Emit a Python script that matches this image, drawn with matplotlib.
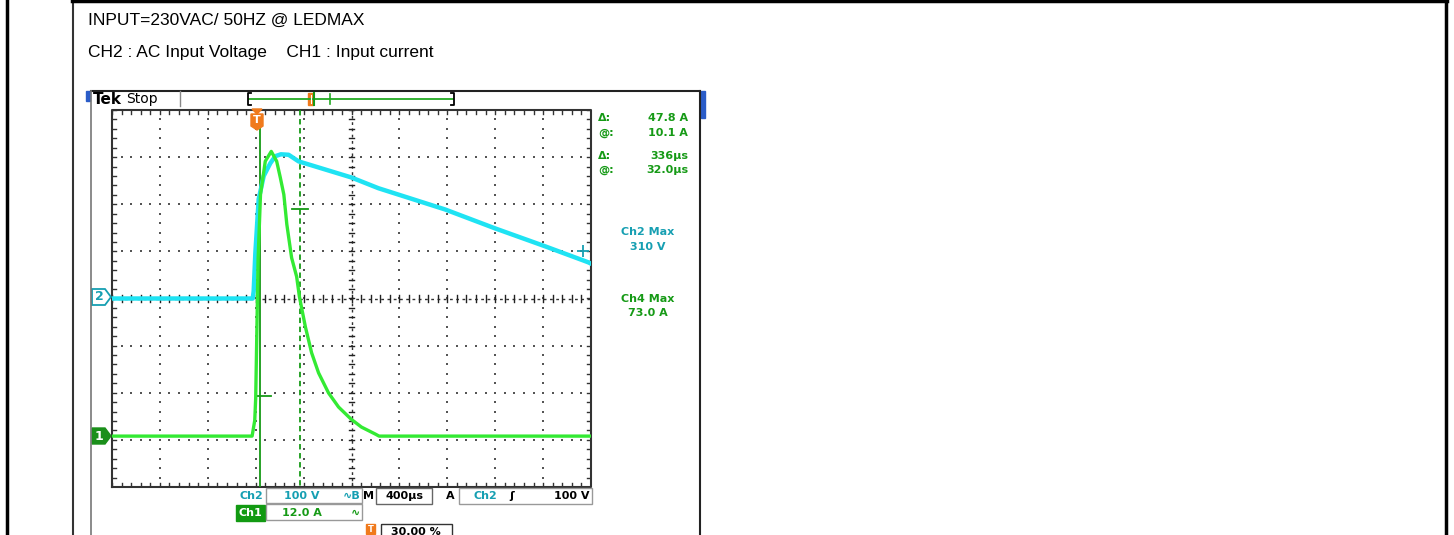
import numpy as np
import matplotlib.pyplot as plt
from matplotlib.patches import Rectangle, Polygon

W, H = 1454, 535

t_ch2 = [-1200, -25, -17, -3, 25, 67, 122, 164, 210, 275, 358, 797, 1025, 1581, 1997, 2414, 2775, 2800]
volt_ch2 = [0, 0, 15, 96, 211, 260, 287, 302, 306, 305, 291, 257, 234, 189, 149, 111, 77, 74]

t_ch1 = [-1200, -30, -8, 0, 20, 40, 80, 130, 175, 205, 235, 260, 300, 342, 365, 415,
         467, 525, 608, 692, 797, 883, 1000, 1030, 2800]
amp_ch1 = [0, 0, 4, 9.7, 45, 61.5, 70, 72.5, 70, 65.9, 61.5, 53.9, 45.4, 40.6, 35.5, 27.8,
           21.2, 16.1, 11, 7.4, 4.3, 2.3, 0.5, 0, 0]

volts_div = 100.0
amps_div = 12.0
ch1_offset = -2.92  # divisiones
cursor_t = [32.0, 368.0]
cursor_i = [10.1, 57.9]

CYAN = '#1fe3f3'
GREEN = '#33ea33'
DKGREEN = '#169a16'
TEAL = '#169fb2'
ORANGE = '#f07a1c'

fig = plt.figure(figsize=(W / 100, H / 100), dpi=100)
fig.patch.set_facecolor('white')

# Reticula del osciloscopio
ax = fig.add_axes([112 / W, 1 - 487 / H, 479 / W, 377 / H])
ax.set_xlim(-1200, 2800)
ax.set_ylim(-4, 4)
ax.axis('off')

minor_x = np.arange(-1200, 2801, 80)
minor_y = np.arange(-4, 4.001, 0.2)
for gx in range(-800, 2800, 400):
    if gx != 800:
        ax.scatter(np.full(len(minor_y), gx), minor_y, s=2, marker='s', color='#555', lw=0)
for gy in range(-3, 4):
    if gy != 0:
        ax.scatter(minor_x, np.full(len(minor_x), gy), s=2, marker='s', color='#555', lw=0)

# ejes centrales con marcas
ax.plot([800, 800], [-4, 4], color='#333', lw=1, ls=(0, (2, 2.5)))
ax.plot([-1200, 2800], [0, 0], color='#333', lw=1, ls=(0, (2, 2.5)))
for yy in minor_y:
    ax.plot([775, 825], [yy, yy], color='#222', lw=1)
for xx in minor_x:
    ax.plot([xx, xx], [-0.065, 0.065], color='#222', lw=1)

# borde con marcas hacia dentro
ax.plot([-1200, 2800, 2800, -1200, -1200], [-4, -4, 4, 4, -4], color='#333', lw=1.5, clip_on=False)
for yy in minor_y:
    ax.plot([-1200, -1167], [yy, yy], color='#333', lw=1)
    ax.plot([2800, 2767], [yy, yy], color='#333', lw=1)
for xx in minor_x:
    ax.plot([xx, xx], [-4, -3.915], color='#333', lw=1)
    ax.plot([xx, xx], [4, 3.915], color='#333', lw=1)

# cursores
ax.plot([cursor_t[0]] * 2, [3.68, -4], color=DKGREEN, lw=1.3, zorder=4)
ax.plot([cursor_t[1]] * 2, [4, -4], color=DKGREEN, lw=1.3, ls=(0, (3, 2)), zorder=4)

# trazas
ax.plot(t_ch2, np.array(volt_ch2) / volts_div, color=CYAN, lw=3.2, zorder=5)
ax.plot(t_ch1, np.array(amp_ch1) / amps_div + ch1_offset, color=GREEN, lw=2.4, zorder=6)

ax.plot([cursor_t[0] - 15, cursor_t[0] + 95], [cursor_i[0] / amps_div + ch1_offset] * 2,
        color=DKGREEN, lw=1.3, zorder=7)
ax.plot([cursor_t[1] - 65, cursor_t[1] + 65], [cursor_i[1] / amps_div + ch1_offset] * 2,
        color=DKGREEN, lw=1.3, zorder=7)
ax.plot(2735, 1.0, marker='+', color=TEAL, ms=8, mew=1.3, zorder=7)

# Capa superpuesta en pixeles
ov = fig.add_axes([0, 0, 1, 1])
ov.set_xlim(0, W)
ov.set_ylim(H, 0)
ov.axis('off')
ov.patch.set_visible(False)

# marco exterior
ov.plot([7, 7], [0, H], color='black', lw=2.5)
ov.plot([73, 73], [0, H], color='#333', lw=1.5)
ov.plot([72, 1447], [1, 1], color='black', lw=2.5)
ov.plot([1446, 1446], [0, H], color='black', lw=2.5)

txt_font = ['Liberation Sans', 'DejaVu Sans']
ov.text(88, 20, 'INPUT=230VAC/ 50HZ @ LEDMAX', fontsize=12.5, family=txt_font, va='center')
ov.text(88, 53, 'CH2 : AC Input Voltage    CH1 : Input current', fontsize=12.5, family=txt_font, va='center')

# marco de la captura
ov.plot([91, 700], [91, 91], color='#222', lw=1.5)
ov.plot([91, 91], [91, H], color='#777', lw=1.2)
ov.plot([700, 700], [91, H], color='#222', lw=1.5)
ov.add_patch(Rectangle((86, 91), 4, 10, color='#2a5cc8'))
ov.add_patch(Rectangle((701, 91), 4, 27, color='#2a5cc8'))

# barra superior
ov.text(93, 99, 'Tek', fontsize=11, fontweight='bold', va='center')
ov.text(126, 99, 'Stop', fontsize=10, va='center')
ov.plot([180, 180], [91, 106], color='#888', lw=1)
ov.plot([249, 453], [99, 99], color='#22aa22', lw=1.3)
ov.plot([251, 248, 248, 251], [93, 93, 105, 105], color='black', lw=1.3)
ov.plot([451, 454, 454, 451], [93, 93, 105, 105], color='black', lw=1.3)
ov.add_patch(Rectangle((308, 93), 5, 12, color=ORANGE))
ov.plot([310.5, 310.5], [95, 103], color='white', lw=0.8)
ov.plot([314, 314], [93, 105], color=DKGREEN, lw=1.5)
ov.plot([330, 330], [94, 104], color='#22aa22', lw=1.2)

# marcador de disparo
ov.add_patch(Polygon([(252, 109), (262, 109), (257, 114)], closed=True, color=ORANGE))
ov.add_patch(Polygon([(251, 114), (263, 114), (263, 126), (257, 130), (251, 126)], closed=True, color=ORANGE))
ov.text(257, 120, 'T', color='white', fontsize=8, fontweight='bold', ha='center', va='center')

# marcadores de canal
ov.add_patch(Polygon([(92, 289), (105, 289), (111, 297), (105, 305), (92, 305)], closed=True,
                     fc='white', ec=TEAL, lw=1.3))
ov.text(99, 297, '2', color=TEAL, fontsize=9, fontweight='bold', ha='center', va='center')
ov.add_patch(Polygon([(92, 428), (105, 428), (111, 436), (105, 444), (92, 444)], closed=True,
                     color='#1a8f1a'))
ov.text(99, 436, '1', color='white', fontsize=9, fontweight='bold', ha='center', va='center')

# lecturas a la derecha
rd = dict(fontsize=8, fontweight='bold', va='center', family='DejaVu Sans')
ov.text(598, 118, 'Δ:', color=DKGREEN, **rd)
ov.text(688, 118, '47.8 A', color=DKGREEN, ha='right', **rd)
ov.text(598, 133, '@:', color=DKGREEN, **rd)
ov.text(688, 133, '10.1 A', color=DKGREEN, ha='right', **rd)
ov.text(598, 156, 'Δ:', color=DKGREEN, **rd)
ov.text(688, 156, '336µs', color=DKGREEN, ha='right', **rd)
ov.text(598, 170, '@:', color=DKGREEN, **rd)
ov.text(688, 170, '32.0µs', color=DKGREEN, ha='right', **rd)
ov.text(648, 232, 'Ch2 Max', color=TEAL, ha='center', **rd)
ov.text(648, 247, '310 V', color=TEAL, ha='center', **rd)
ov.text(648, 299, 'Ch4 Max', color=DKGREEN, ha='center', **rd)
ov.text(648, 313, '73.0 A', color=DKGREEN, ha='center', **rd)

# fila inferior
ov.text(251, 496, 'Ch2', color=TEAL, ha='center', **rd)
ov.add_patch(Rectangle((266, 488), 96, 15, fc='none', ec='#999', lw=1))
ov.text(302, 496, '100 V', color=TEAL, ha='center', **rd)
ov.text(352, 496, '∿B', color=TEAL, ha='center', **rd)
ov.text(368, 496, 'M', color='black', ha='center', **rd)
ov.add_patch(Rectangle((376, 488), 56, 16, fc='none', ec='#666', lw=1))
ov.text(404, 496, '400µs', color='black', ha='center', **rd)
ov.text(450, 496, 'A', color='black', ha='center', **rd)
ov.add_patch(Rectangle((459, 488), 133, 16, fc='none', ec='#999', lw=1))
ov.text(485, 496, 'Ch2', color=TEAL, ha='center', **rd)
ov.text(512, 496, 'ʃ', color='black', ha='center', **rd)
ov.text(590, 496, '100 V', color='black', ha='right', **rd)

ov.add_patch(Rectangle((236, 505), 29, 16, color='#129a12'))
ov.text(250, 513, 'Ch1', color='white', ha='center', **rd)
ov.add_patch(Rectangle((266, 504), 96, 16, fc='none', ec='#999', lw=1))
ov.text(302, 513, '12.0 A', color=DKGREEN, ha='center', **rd)
ov.text(355, 513, '∿', color=DKGREEN, ha='center', **rd)

ov.add_patch(Rectangle((366, 524), 9, 10, color=ORANGE))
ov.text(370.5, 529, 'T', color='white', fontsize=6, fontweight='bold', ha='center', va='center')
ov.add_patch(Rectangle((381, 524), 71, 16, fc='none', ec='#333', lw=1))
ov.text(416, 532, '30.00 %', color='black', ha='center', **rd)

fig.savefig('out.png', dpi=100)
